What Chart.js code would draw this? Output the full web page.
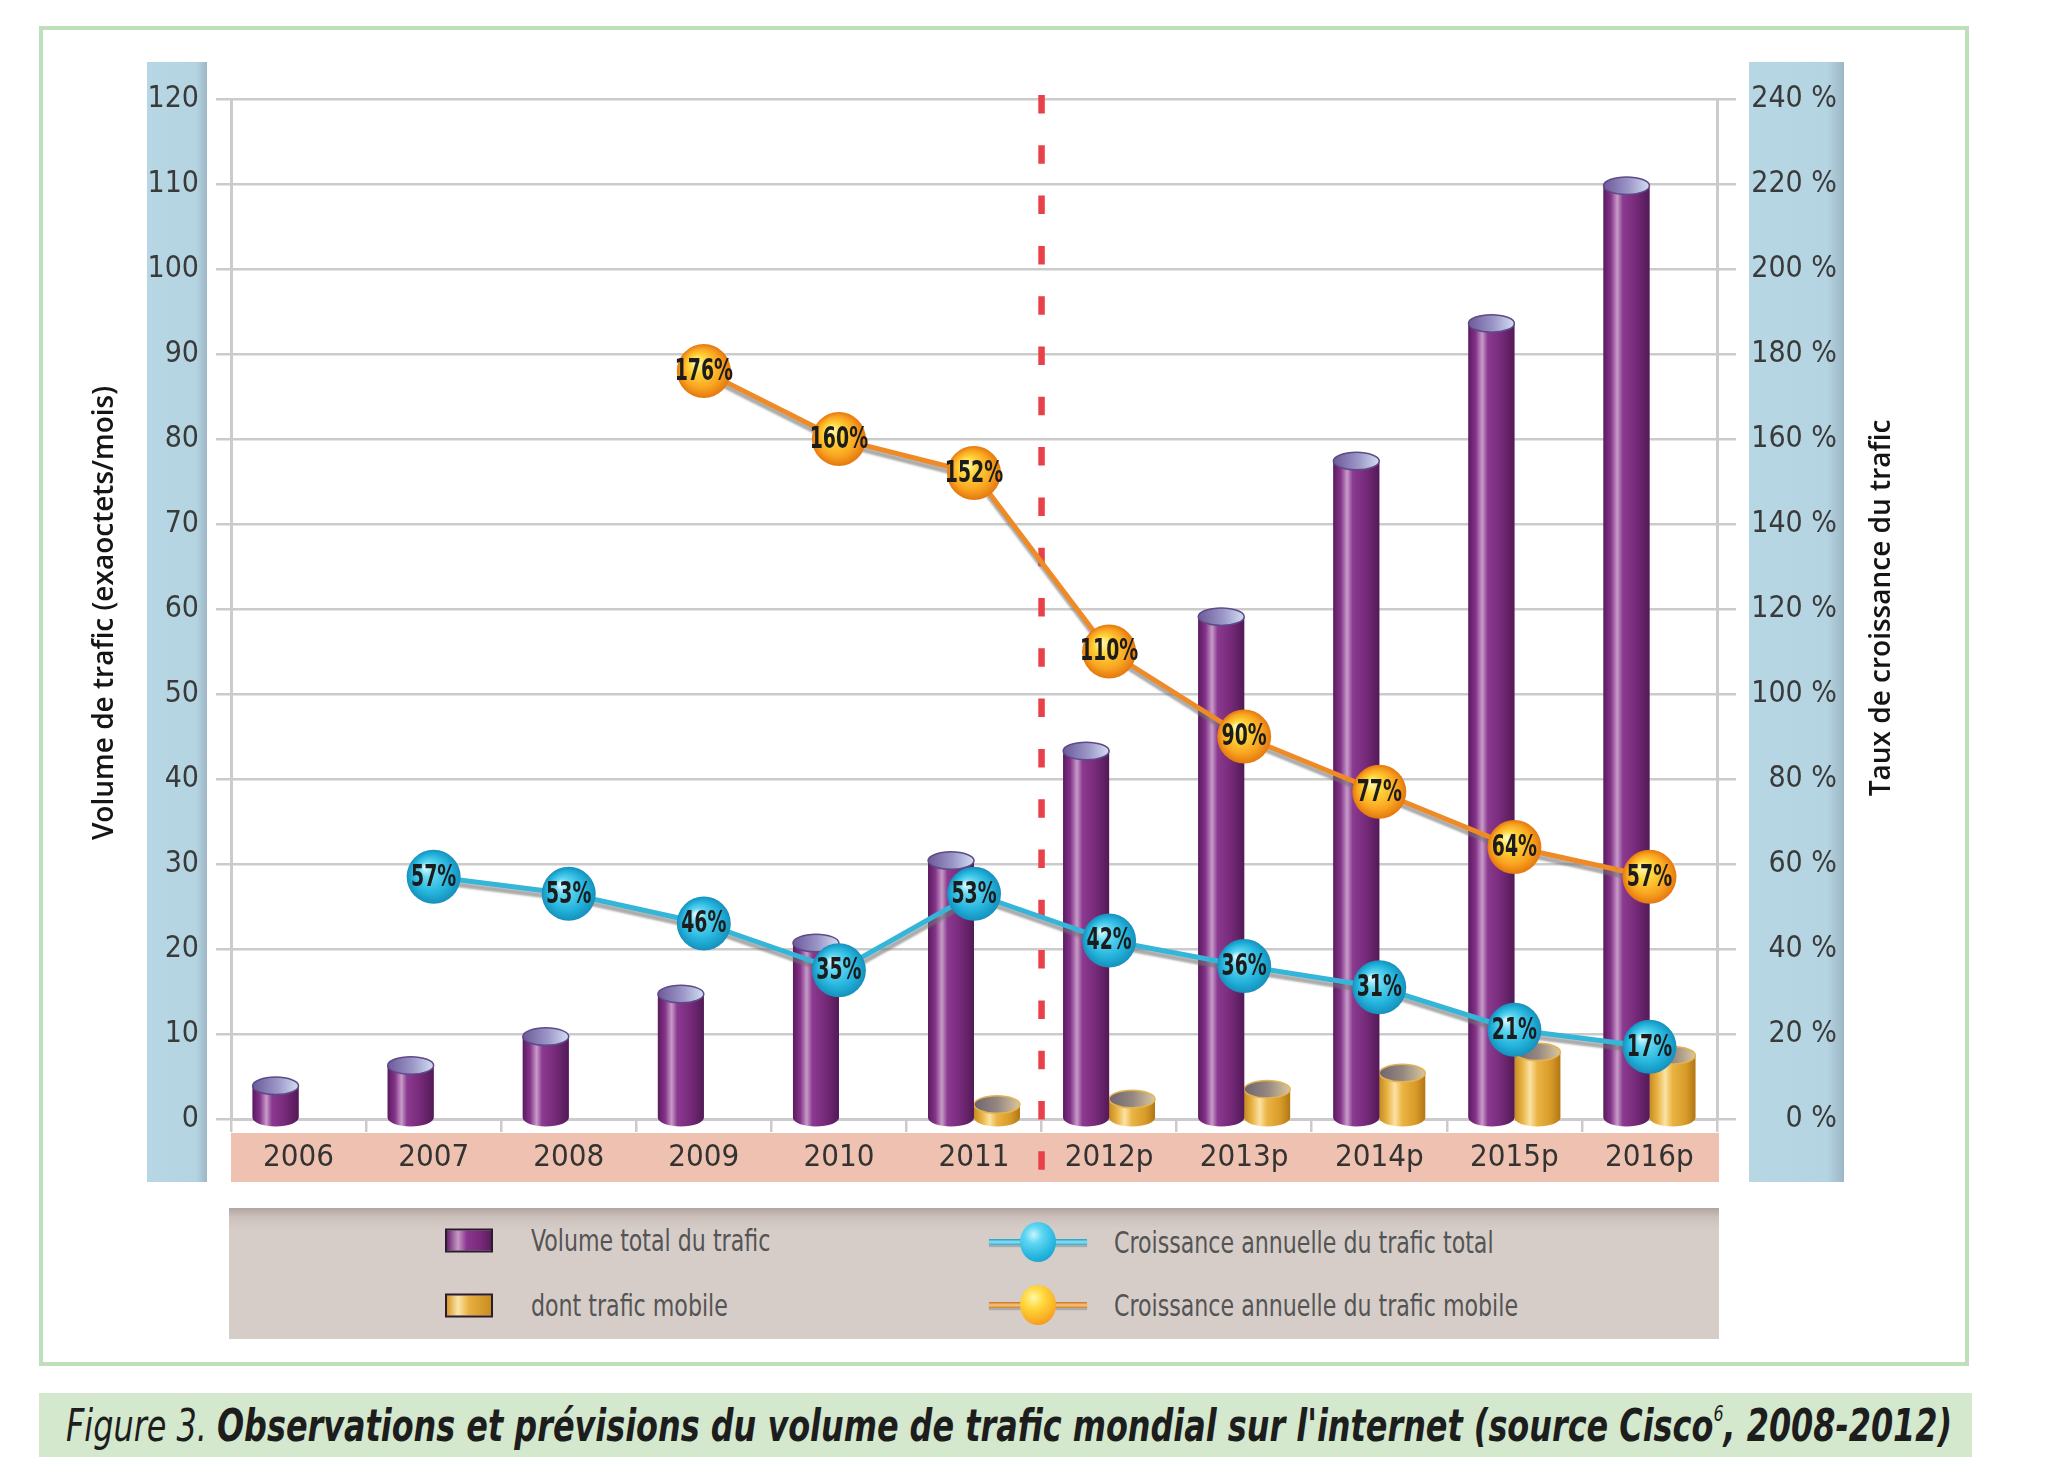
<!DOCTYPE html>
<html lang="fr">
<head>
<meta charset="utf-8">
<title>Trafic mondial sur l'internet</title>
<script src="https://cdn.jsdelivr.net/npm/chart.js@4.4.1/dist/chart.umd.min.js"></script>
<style>
  html, body { margin: 0; padding: 0; background: #fff; }
  body { position: relative; width: 2052px; height: 1478px; overflow: hidden; }
  #cadre { position: absolute; left: 39px; top: 26px; width: 1922px; height: 1332px; border: 4px solid #bddfba; }
  #graphique { position: absolute; left: 0; top: 0; }
  #legende {
    position: absolute; left: 229px; top: 1208px; width: 1490px; height: 131px;
    background: linear-gradient(#b2a4a1 0, #cbc0bc 9px, #d6cdc9 22px, #d6cdc9 100%);
  }
  .item {
    position: absolute; display: flex; align-items: center; transform: translateY(-50%);
    font: 30px "Liberation Sans Narrow", "DejaVu Sans Condensed", sans-serif; color: #545454; white-space: nowrap;
  }
  .item .libelle { display: inline-block; transform: scaleX(0.82); transform-origin: left center; }
  .carre { width: 44px; height: 20px; border: 2px solid #2b1b2b; margin-right: 38px; }
  .carre.violet { background: linear-gradient(90deg, #6a2270 0%, #c59ac6 25%, #8a3590 45%, #7a2a7c 75%, #5b1d5f 100%); }
  .carre.orange { background: linear-gradient(90deg, #d79a2a 0%, #fbe4a8 25%, #e8b040 50%, #c98c20 100%); }
  .bille { position: relative; width: 98px; height: 40px; margin-right: 27px; }
  .bille::before { content: ''; position: absolute; left: 0; right: 0; top: 17px; height: 6px; box-shadow: 0 2px 1px #aaa; }
  .bille::after { content: ''; position: absolute; left: 31px; top: 0; width: 36px; height: 40px; border-radius: 50%; }
  .bille.cyan::before { background: linear-gradient(#1b9fc4, #8fe0f3 50%, #2aaed4); }
  .bille.cyan::after { background: radial-gradient(circle at 38% 32%, #c8f4ff 0, #5fd6f2 25%, #22b4dd 65%, #1590bb 100%); }
  .bille.jaune::before { background: linear-gradient(#c8701a, #f6c88a 50%, #d9801f); }
  .bille.jaune::after { background: radial-gradient(circle at 38% 32%, #fff6a8 0, #ffd83c 30%, #f9a520 72%, #e57a12 100%); }
  #titre-figure { position: absolute; left: 39px; top: 1393px; width: 1933px; height: 64px; background: #d4e8ce; }
  #titre-figure .texte {
    position: absolute; left: 27px; top: 50%; transform-origin: left center; white-space: nowrap;
    font: italic 44px "Liberation Sans Narrow", "DejaVu Sans Condensed", sans-serif; color: #1d1d1d;
  }
  #titre-figure b { font-weight: bold; }
  #titre-figure sup { font-size: 22px; font-weight: normal; position: relative; top: -4px; }
</style>
</head>
<body>
<div id="cadre"></div>
<canvas id="graphique" width="2052" height="1478"></canvas>
<div id="legende"></div>
<div id="titre-figure"><span class="texte">Figure 3. <b>Observations et prévisions du volume de trafic mondial sur l'internet (source Cisco<sup>6</sup>, 2008-2012)</b></span></div>

<script>
// Données
const annees = ['2006', '2007', '2008', '2009', '2010', '2011', '2012p', '2013p', '2014p', '2015p', '2016p'];
const volumeTotal = [3.9, 6.3, 9.7, 14.7, 20.7, 30.4, 43.3, 59.1, 77.4, 93.6, 109.8];
const traficMobile = [null, null, null, null, null, 1.7, 2.35, 3.5, 5.4, 7.9, 7.5];
const croissanceTotale = [null, 57, 53, 46, 35, 53, 42, 36, 31, 21, 17];
const croissanceMobile = [null, null, null, 176, 160, 152, 110, 90, 77, 64, 57];
const etiquettesVolume = [0, 10, 20, 30, 40, 50, 60, 70, 80, 90, 100, 110, 120];
const etiquettesTaux = [0, 20, 40, 60, 80, 100, 120, 140, 160, 180, 200, 220, 240];
const premierePrevision = 6; // index de 2012p

const titreVolume = 'Volume de trafic (exaoctets/mois)';
const titreTaux = 'Taux de croissance du trafic';
const policeChiffres = '"Liberation Sans Narrow", "DejaVu Sans Condensed", sans-serif';
const gris = '#cbcbcb';

function bandeBleue(ctx, x, y, l, h) {
    const g = ctx.createLinearGradient(x, 0, x + l, 0);
    g.addColorStop(0, '#b8d7e5');
    g.addColorStop(0.82, '#b5d4e2');
    g.addColorStop(1, '#9db6c6');
    ctx.fillStyle = g;
    ctx.fillRect(x, y, l, h);
}

function degrade(ctx, x0, x1, arrets) {
    const g = ctx.createLinearGradient(x0, 0, x1, 0);
    arrets.forEach(([p, c]) => g.addColorStop(p, c));
    return g;
}

function cylindre(ctx, barre, teintes) {
    const { x, y, base, width } = barre.getProps(['x', 'y', 'base', 'width'], true);
    const g = width / 2;
    const ry = width * 0.19;
    ctx.fillStyle = degrade(ctx, x - g, x + g, teintes.corps);
    ctx.beginPath();
    ctx.moveTo(x - g, y);
    ctx.lineTo(x - g, base);
    ctx.ellipse(x, base, g, ry, 0, Math.PI, 0, true);
    ctx.lineTo(x + g, y);
    ctx.closePath();
    ctx.fill();
    // dessus
    ctx.fillStyle = degrade(ctx, x - g, x + g, teintes.dessus);
    ctx.beginPath();
    ctx.ellipse(x, y, g, ry, 0, 0, Math.PI * 2);
    ctx.fill();
    ctx.strokeStyle = teintes.bord;
    ctx.lineWidth = 1.5;
    ctx.stroke();
}

function bille(ctx, x, y, r, arrets) {
    const g = ctx.createRadialGradient(x - r * 0.3, y - r * 0.35, r * 0.05, x, y, r);
    arrets.forEach(([p, c]) => g.addColorStop(p, c));
    ctx.fillStyle = g;
    ctx.beginPath();
    ctx.arc(x, y, r, 0, Math.PI * 2);
    ctx.fill();
}

const decor = {
    id: 'decor',
    beforeDraw(chart) {
        const { ctx, chartArea: zone } = chart;
        ctx.save();
        bandeBleue(ctx, 147, 62, 60, 1120);
        bandeBleue(ctx, 1749, 62, 95, 1120);
        ctx.fillStyle = '#eec1b0';
        ctx.fillRect(zone.left, zone.bottom + 14, zone.right - zone.left + 2, 49);
        ctx.restore();
    },
    beforeDatasetsDraw(chart) {
        // séparation observations / prévisions
        const { ctx, scales: { x } } = chart;
        const xp = (x.getPixelForValue(premierePrevision - 1) + x.getPixelForValue(premierePrevision)) / 2;
        ctx.save();
        ctx.strokeStyle = '#e8414a';
        ctx.lineWidth = 6.5;
        ctx.setLineDash([18.5, 31.8]);
        ctx.beginPath();
        ctx.moveTo(xp, 95);
        ctx.lineTo(xp, 1172);
        ctx.stroke();
        ctx.restore();
    },
    beforeDatasetDraw(chart, args) {
        if (args.meta.type !== 'line') return;
        const ctx = chart.ctx;
        ctx.save();
        ctx.shadowColor = 'rgba(115, 115, 115, 0.6)';
        ctx.shadowOffsetX = 1;
        ctx.shadowOffsetY = 5;
        ctx.shadowBlur = 2;
    },
    afterDatasetDraw(chart, args) {
        const ctx = chart.ctx;
        const ds = chart.data.datasets[args.index];
        if (args.meta.type === 'bar') {
            ctx.save();
            args.meta.data.forEach((b, i) => {
                if (ds.data[i] != null) cylindre(ctx, b, ds.teintes);
            });
            ctx.restore();
            return;
        }
        ctx.restore();
        ctx.save();
        args.meta.data.forEach((pt, i) => {
            if (ds.data[i] == null) return;
            bille(ctx, pt.x, pt.y, 27, ds.bille);
            ctx.save();
            ctx.translate(pt.x, pt.y + 1);
            ctx.scale(0.7, 1);
            ctx.fillStyle = '#1c1c1c';
            ctx.font = 'bold 30px ' + policeChiffres;
            ctx.textAlign = 'center';
            ctx.textBaseline = 'middle';
            ctx.fillText(ds.data[i] + '%', 0, 0);
            ctx.restore();
        });
        ctx.restore();
    },
    afterDraw(chart) {
        const ctx = chart.ctx;
        ctx.save();
        ctx.fillStyle = '#151515';
        ctx.font = '600 28px "Open Sans", "DejaVu Sans", sans-serif';
        ctx.textAlign = 'center';
        ctx.textBaseline = 'middle';
        [[titreVolume, 105, 613], [titreTaux, 1882, 608]].forEach(([t, x, y]) => {
            ctx.save();
            ctx.translate(x, y);
            ctx.rotate(-Math.PI / 2);
            ctx.fillText(t, 0, 0);
            ctx.restore();
        });
        ctx.restore();
    }
};

const chart = new Chart(document.getElementById('graphique'), {
    data: {
        labels: annees,
        datasets: [
            {
                type: 'bar',
                label: 'Volume total du trafic',
                data: volumeTotal,
                backgroundColor: '#7a2a7c',
                yAxisID: 'y',
                order: 2,
                legende: 'carre violet',
                teintes: {
                    corps: [[0, '#5a1b5e'], [0.16, '#85338a'], [0.3, '#c79cc8'], [0.42, '#8b3a90'], [0.7, '#772a7a'], [1, '#521a56']],
                    dessus: [[0, '#6c5a9a'], [0.55, '#9c98c8'], [1, '#d2def2']],
                    bord: '#5e4a86'
                }
            },
            {
                type: 'bar',
                label: 'dont trafic mobile',
                data: traficMobile,
                backgroundColor: '#e3ac3c',
                yAxisID: 'y',
                order: 2,
                legende: 'carre orange',
                teintes: {
                    corps: [[0, '#c68a1e'], [0.18, '#e9b547'], [0.34, '#fbe2a4'], [0.5, '#eab443'], [0.8, '#d79a28'], [1, '#b07616']],
                    dessus: [[0, '#6f6470'], [0.5, '#948680'], [1, '#d9c79e']],
                    bord: '#e4b452'
                }
            },
            {
                type: 'line',
                label: 'Croissance annuelle du trafic total',
                data: croissanceTotale,
                borderColor: '#35b6d9',
                borderWidth: 5,
                pointRadius: 0,
                yAxisID: 'y1',
                order: 1,
                legende: 'bille cyan',
                bille: [[0, '#d2f7ff'], [0.25, '#62d7f2'], [0.7, '#23b3dc'], [1, '#1690bb']]
            },
            {
                type: 'line',
                label: 'Croissance annuelle du trafic mobile',
                data: croissanceMobile,
                borderColor: '#ee8b27',
                borderWidth: 5,
                pointRadius: 0,
                yAxisID: 'y1',
                order: 1,
                legende: 'bille jaune',
                bille: [[0, '#fff8b0'], [0.3, '#ffd63a'], [0.72, '#f9a420'], [1, '#e4780f']]
            }
        ]
    },
    options: {
        responsive: false,
        devicePixelRatio: 1,
        animation: false,
        events: [],
        layout: { padding: { left: 0, top: 99, right: 215, bottom: 296 } },
        plugins: { legend: { display: false }, tooltip: { enabled: false } },
        datasets: { bar: { categoryPercentage: 0.68, barPercentage: 1 } },
        scales: {
            x: {
                offset: true,
                grid: { drawOnChartArea: false, offset: true, tickLength: 13, color: gris, lineWidth: 2.5 },
                border: { display: true, color: gris, width: 3 },
                ticks: { color: '#333', padding: 7, autoSkip: false, maxRotation: 0, font: { family: policeChiffres, size: 31 } },
                afterFit: (s) => { s.height = 63; }
            },
            y: {
                position: 'left',
                min: 0,
                max: 120,
                afterBuildTicks: (s) => { s.ticks = etiquettesVolume.map(v => ({ value: v })); },
                grid: { color: gris, lineWidth: 2.5, tickLength: 15 },
                border: { display: true, color: gris, width: 3 },
                ticks: { color: '#3a3a3a', padding: 17, autoSkip: false, font: { family: policeChiffres, size: 30 } },
                afterFit: (s) => { s.width = 231; }
            },
            y1: {
                position: 'right',
                min: 0,
                max: 240,
                afterBuildTicks: (s) => { s.ticks = etiquettesTaux.map(v => ({ value: v })); },
                grid: { drawOnChartArea: false, color: gris, lineWidth: 2.5, tickLength: 19 },
                border: { display: true, color: gris, width: 3 },
                ticks: {
                    color: '#3a3a3a', crossAlign: 'far', autoSkip: false,
                    font: { family: policeChiffres, size: 30 },
                    callback: (v) => v + ' %'
                },
                afterFit: (s) => { s.width = 120; }
            }
        }
    },
    plugins: [decor]
});

// Légende HTML construite à partir des séries
const legende = document.getElementById('legende');
const places = [[216, 32], [216, 97], [760, 34], [760, 97]];
chart.data.datasets.forEach((ds, i) => {
    const item = document.createElement('div');
    item.className = 'item';
    item.style.left = places[i][0] + 'px';
    item.style.top = places[i][1] + 'px';
    const marque = document.createElement('span');
    marque.className = ds.legende;
    const texte = document.createElement('span');
    texte.className = 'libelle';
    texte.textContent = ds.label;
    item.append(marque, texte);
    legende.appendChild(item);
});

// Ajuster la légende de la figure à la largeur de l'original
const texteFigure = document.querySelector('#titre-figure .texte');
const largeur = texteFigure.getBoundingClientRect().width;
texteFigure.style.transform = 'translateY(-50%) scaleX(' + (1886 / largeur) + ')';
</script>
</body>
</html>
